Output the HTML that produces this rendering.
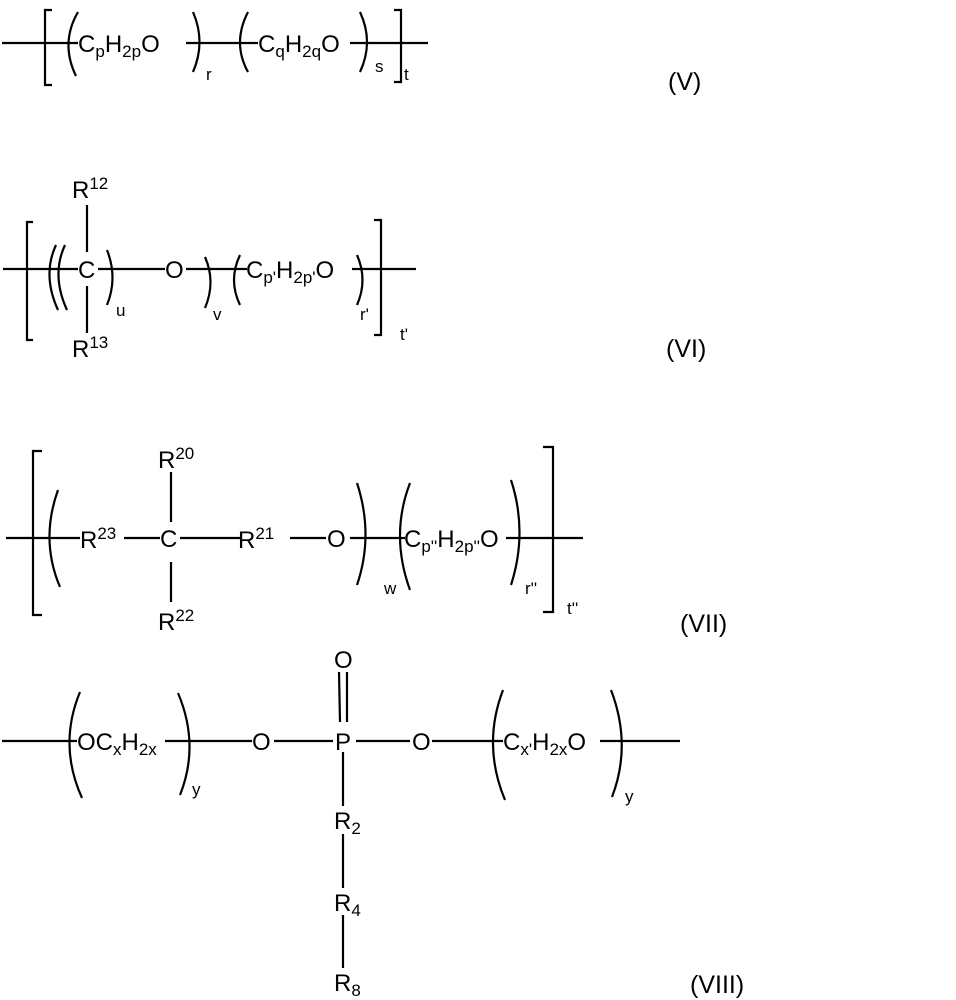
<!DOCTYPE html>
<html><head><meta charset="utf-8"><style>
html,body{margin:0;padding:0;background:#fff;}
svg{display:block;}
text{font-family:"Liberation Sans",Arial,sans-serif;fill:#000;font-size:24px;}
.s{font-size:17px}.l{font-size:25px}
</style></head><body>
<svg width="956" height="1000" viewBox="0 0 956 1000" xmlns="http://www.w3.org/2000/svg">
<g stroke="#000" fill="none" stroke-width="2.2">
<!-- V -->
<line x1="2" y1="43" x2="78" y2="43"/>
<line x1="186" y1="43" x2="258" y2="43"/>
<line x1="350" y1="43" x2="428" y2="43"/>
<path d="M52 10 H45 V85 H52"/>
<path d="M78 12 Q60 43 76 76"/>
<path d="M193 12 Q206 42 193 72"/>
<path d="M248 12 Q232 43 248 72"/>
<path d="M360 12 Q374 42 360 72"/>
<path d="M394 10 H401 V82 H394"/>
<!-- VI -->
<line x1="3" y1="269" x2="78" y2="269"/>
<line x1="98" y1="269" x2="165" y2="269"/>
<line x1="186" y1="269" x2="247" y2="269"/>
<line x1="352" y1="269" x2="416" y2="269"/>
<path d="M33 222 H27 V340 H33"/>
<path d="M56 245 Q42 275 58 310"/>
<path d="M65 245 Q51 275 67 310"/>
<path d="M107 250 Q118 278 107 305"/>
<path d="M205 257 Q216 282 205 308"/>
<path d="M240 255 Q228 280 240 305"/>
<path d="M357 255 Q368 280 357 305"/>
<path d="M374 220 H381 V335 H374"/>
<line x1="87" y1="205" x2="87" y2="252"/>
<line x1="87" y1="286" x2="87" y2="333"/>
<!-- VII -->
<line x1="6" y1="538" x2="80" y2="538"/>
<line x1="124" y1="538" x2="160" y2="538"/>
<line x1="180" y1="538" x2="240" y2="538"/>
<line x1="290" y1="538" x2="326" y2="538"/>
<line x1="350" y1="538" x2="405" y2="538"/>
<line x1="506" y1="538" x2="583" y2="538"/>
<path d="M42 451 H33 V615 H42"/>
<path d="M58 490 Q40 540 60 587"/>
<path d="M357 483 Q374 535 357 585"/>
<path d="M410 483 Q390 535 410 590"/>
<path d="M511 480 Q528 532 511 585"/>
<path d="M543 447 H553 V612 H543"/>
<line x1="171" y1="472" x2="171" y2="522"/>
<line x1="171" y1="562" x2="171" y2="602"/>
<!-- VIII -->
<line x1="2" y1="741" x2="77" y2="741"/>
<line x1="165" y1="741" x2="252" y2="741"/>
<line x1="274" y1="741" x2="333" y2="741"/>
<line x1="356" y1="741" x2="410" y2="741"/>
<line x1="432" y1="741" x2="503" y2="741"/>
<line x1="600" y1="741" x2="680" y2="741"/>
<path d="M80 692 Q58 745 82 798"/>
<path d="M178 693 Q200 745 180 795"/>
<path d="M503 690 Q482 745 505 800"/>
<path d="M611 690 Q632 745 612 797"/>
<line x1="339" y1="672" x2="340" y2="722"/>
<line x1="347" y1="672" x2="347" y2="722"/>
<line x1="343" y1="752" x2="343" y2="806"/>
<line x1="343" y1="834" x2="343" y2="888"/>
<line x1="343" y1="915" x2="343" y2="968"/>
</g>
<!-- V text -->
<text x="78" y="52">C<tspan class="s" dy="5">p</tspan><tspan dy="-5">H</tspan><tspan class="s" dy="5">2p</tspan><tspan dy="-5">O</tspan></text>
<text x="206" y="80" class="s">r</text>
<text x="258" y="52">C<tspan class="s" dy="5">q</tspan><tspan dy="-5">H</tspan><tspan class="s" dy="5">2q</tspan><tspan dy="-5">O</tspan></text>
<text x="375" y="72" class="s">s</text>
<text x="404" y="80" class="s">t</text>
<text x="668" y="90" class="l">(V)</text>
<!-- VI text -->
<text x="72" y="198">R<tspan class="s" dy="-9">12</tspan></text>
<text x="78" y="278">C</text>
<text x="72" y="357">R<tspan class="s" dy="-9">13</tspan></text>
<text x="116" y="316" class="s">u</text>
<text x="165" y="278">O</text>
<text x="213" y="320" class="s">v</text>
<text x="246" y="278">C<tspan class="s" dy="5">p'</tspan><tspan dy="-5">H</tspan><tspan class="s" dy="5">2p'</tspan><tspan dy="-5">O</tspan></text>
<text x="360" y="320" class="s">r'</text>
<text x="400" y="340" class="s">t'</text>
<text x="666" y="357" class="l">(VI)</text>
<!-- VII text -->
<text x="80" y="548">R<tspan class="s" dy="-9">23</tspan></text>
<text x="160" y="547">C</text>
<text x="158" y="468">R<tspan class="s" dy="-9">20</tspan></text>
<text x="158" y="630">R<tspan class="s" dy="-9">22</tspan></text>
<text x="238" y="548">R<tspan class="s" dy="-9">21</tspan></text>
<text x="327" y="547">O</text>
<text x="384" y="594" class="s">w</text>
<text x="404" y="547">C<tspan class="s" dy="5">p''</tspan><tspan dy="-5">H</tspan><tspan class="s" dy="5">2p''</tspan><tspan dy="-5">O</tspan></text>
<text x="525" y="594" class="s">r''</text>
<text x="567" y="614" class="s">t''</text>
<text x="680" y="632" class="l">(VII)</text>
<!-- VIII text -->
<text x="77" y="750">OC<tspan class="s" dy="5">x</tspan><tspan dy="-5">H</tspan><tspan class="s" dy="5">2x</tspan></text>
<text x="192" y="795" class="s">y</text>
<text x="252" y="750">O</text>
<text x="335" y="750">P</text>
<text x="334" y="668">O</text>
<text x="412" y="750">O</text>
<text x="503" y="750">C<tspan class="s" dy="5">x'</tspan><tspan dy="-5">H</tspan><tspan class="s" dy="5">2x</tspan><tspan dy="-5">O</tspan></text>
<text x="625" y="802" class="s">y</text>
<text x="334" y="829">R<tspan class="s" dy="5">2</tspan></text>
<text x="334" y="911">R<tspan class="s" dy="5">4</tspan></text>
<text x="334" y="991">R<tspan class="s" dy="5">8</tspan></text>
<text x="690" y="993" class="l">(VIII)</text>
</svg>
</body></html>
